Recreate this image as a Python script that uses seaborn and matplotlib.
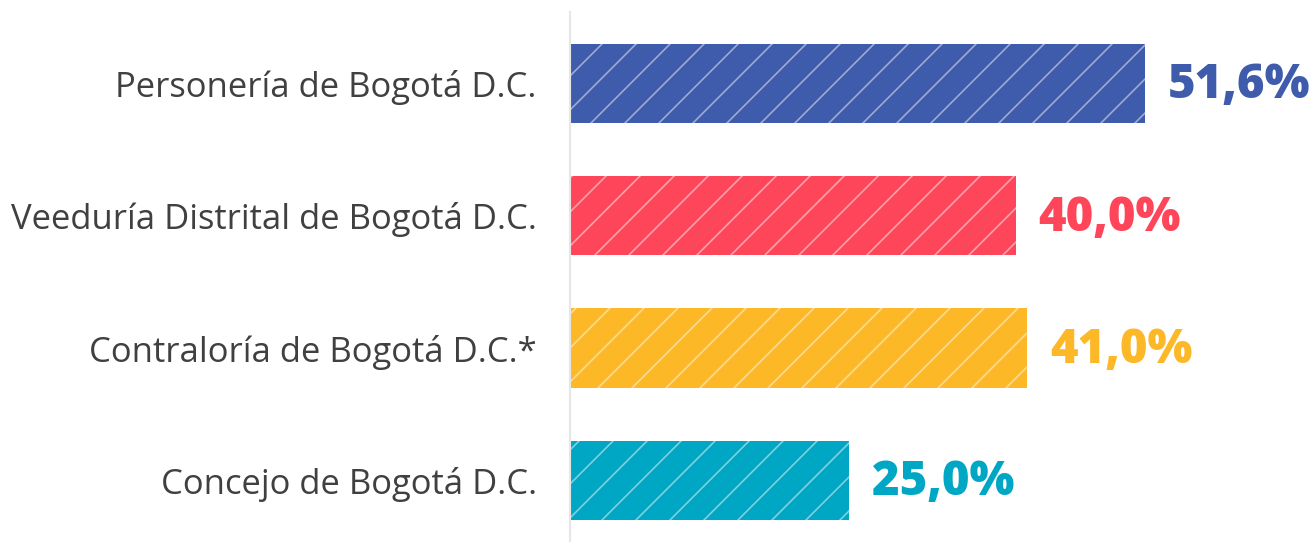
import matplotlib
matplotlib.use("Agg")
import matplotlib.pyplot as plt
import seaborn as sns
import pandas as pd

categories = ["Personería de Bogotá D.C.", "Veeduría Distrital de Bogotá D.C.",
              "Contraloría de Bogotá D.C.*", "Concejo de Bogotá D.C."]
values = [51.6, 40.0, 41.0, 25.0]
value_labels = ["51,6%", "40,0%", "41,0%", "25,0%"]
colors = ["#3F5BAB", "#FF4559", "#FDB827", "#00A7C4"]

DPI = 102
W, H = 1314, 542


def pt(px):
    return px * 72 / DPI


sns.set_theme(style="white")
plt.rcParams["font.family"] = ["Open Sans", "DejaVu Sans"]
plt.rcParams["hatch.linewidth"] = pt(1.6)

df = pd.DataFrame({"cat": categories, "val": values})

fig = plt.figure(figsize=(W / DPI, H / DPI), dpi=DPI)
ax = fig.add_axes([570 / W, 0, 1 - 570 / W, (H - 12) / H])

sns.barplot(data=df, y="cat", x="val", hue="cat", palette=colors, orient="h",
            width=0.6, legend=False, ax=ax, saturation=1)

for p in ax.patches:
    p.set_hatch("/")
    p.set_edgecolor((1, 1, 1, 0.5))
    p.set_linewidth(0)

for i, (v, lab, c) in enumerate(zip(values, value_labels, colors)):
    ax.annotate(lab, xy=(v, i), xytext=(pt(23), -pt(3)), textcoords="offset points",
                ha="left", va="center", fontsize=pt(47.3), fontweight="heavy", color=c)

ax.set_xlim(0, 744 / (575 / 51.6))
ax.set_ylim(3.465, -0.54)
ax.set_xlabel("")
ax.set_ylabel("")
ax.set_xticks([])
ax.tick_params(axis="y", length=0, pad=pt(33.3), labelsize=pt(34.6), labelcolor="#404040")
for s in ["top", "right", "bottom"]:
    ax.spines[s].set_visible(False)
ax.spines["left"].set_color("#E6E6E6")
ax.spines["left"].set_linewidth(pt(2.1))

fig.savefig("out.png", dpi=DPI, facecolor="white")
